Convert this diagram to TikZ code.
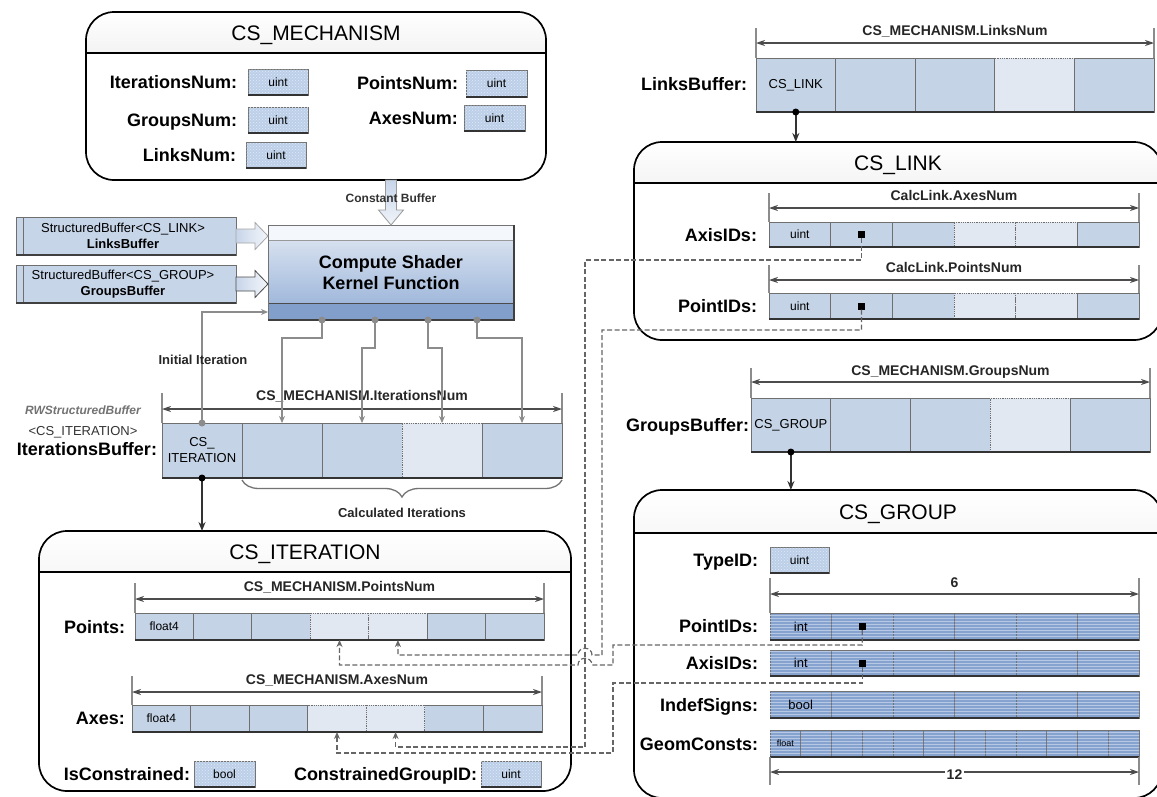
\documentclass[tikz,border=0pt]{standalone}
\usepackage{fontspec}
\setmainfont{Liberation Sans}
\usetikzlibrary{arrows.meta,patterns,decorations.pathreplacing,calc}
\definecolor{cellblue}{HTML}{C5D3E6}
\definecolor{celllight}{HTML}{E1E8F2}
\definecolor{cellborder}{HTML}{6F6F6F}
\definecolor{grpblue}{HTML}{86A3D0}
\definecolor{grpline}{HTML}{B7C8E5}
\definecolor{typeblue}{HTML}{BCCFE8}
\definecolor{csTop}{HTML}{E3EAF4}
\definecolor{csBot}{HTML}{93AED6}
\definecolor{csBand}{HTML}{829FCC}
\definecolor{wireg}{HTML}{8C8C8C}
\definecolor{hdrgray}{HTML}{CDCDCD}
\definecolor{bufblue}{HTML}{C7D5E9}
\newcommand\fsz[1]{\fontsize{#1}{#1}\selectfont}
\tikzset{
  every node/.style={inner sep=0pt, outer sep=0pt},
  cell/.style={draw=cellborder, fill=cellblue, line width=0.8pt, anchor=north west},
  lcell/.style={draw=cellborder, fill=celllight, densely dotted, line width=0.8pt, anchor=north west},
  gcell/.style={draw=black!55, fill=grpblue, line width=0.8pt, anchor=north west,
     postaction={pattern=horizontal lines, pattern color=grpline}},
  typebox/.style={draw=cellborder, fill=typeblue, line width=0.8pt, anchor=north west,
     postaction={pattern=crosshatch dots, pattern color=white!55!typeblue}, font=\fsz{12}},
  rowbot/.style={draw=black!80, line width=1.8pt},
  lbl/.style={font=\bfseries\fsz{18}, anchor=east, text height=13, text depth=0},
  celltxt/.style={font=\fontsize{13}{16}\selectfont, align=center},
  dimlbl/.style={font=\bfseries\fsz{14}, text=black!85, text height=10, text depth=0},
  dimline/.style={draw=black!70, line width=1.3pt, {Stealth[length=9pt,width=6pt]}-{Stealth[length=9pt,width=6pt]}},
  tick/.style={draw=black!45, line width=2pt},
  wire/.style={draw=wireg, line width=1.8pt},
  wiretip/.style={-{Stealth[length=7pt,width=6pt]}},
  dconn/.style={draw=black!60, line width=1.2pt, dash pattern=on 5pt off 2.5pt, -{Stealth[length=7pt,width=6pt]}},
  conn/.style={draw=black!80, line width=1.6pt, -{Stealth[length=9pt,width=7pt]}},
  sbox/.style={fill=white, anchor=north west, rounded corners=28pt},
  sframe/.style={draw=black, line width=1.7pt, rounded corners=28pt},
  stitle/.style={font=\fsz{21}, anchor=base},
  marker/.style={fill=black, minimum size=7pt},
  gdot/.style={circle, fill=wireg, minimum size=7pt},
  bdot/.style={circle, fill=black, minimum size=7pt},
  barrow/.style={left color=bufblue, right color=white!80!bufblue, draw=black!35, line width=0.8pt},
  barrowv/.style={top color=bufblue, bottom color=white!75!bufblue, draw=black!40, line width=0.8pt},
  bufbox/.style={draw=cellborder, fill=bufblue, line width=0.8pt, anchor=north west, minimum width=220, minimum height=38},
}
% #1 name, #2 x1, #3 y1, #4 x2, #5 y2, #6 header y, #7 title
\newcommand\structframe[7]{%
  \node[sbox, minimum width=#4-#2, minimum height=#5-#3] (#1) at (#2,#3) {};
  \begin{scope}
    \clip (#2,#3) rectangle (#4,#6);
    \fill[top color=white, bottom color=hdrgray, rounded corners=28pt] (#2,#3) rectangle (#4,#5);
  \end{scope}
  \draw[sframe] (#1.north west) rectangle (#1.south east);
  \draw[line width=1.8pt] (#2,#6) -- (#4,#6);
  \node[stitle] (#1T) at ({(#2+#4)/2},{(#3+#6)/2+7.5}) {#7};
}
% #1 prefix, #2 x0, #3 y0, #4 w, #5 h, #6 list, #7 n
\newcommand\cellrow[7]{%
  \foreach \i/\sty in {#6} \node[\sty, minimum width=#4, minimum height=#5] (#1\i) at ({#2+(\i-1)*#4},#3) {};
  \draw[rowbot] (#11.south west) -- (#1#7.south east);
}
% #1 name, #2 left cell, #3 right cell, #4 tick, #5 line offset, #6 label offset, #7 label
\newcommand\dimabove[7]{%
  \draw[tick] (#2.north west) -- ++(0,-#4);
  \draw[tick] (#3.north east) -- ++(0,-#4);
  \draw[dimline] ($(#2.north west)+(0,-#5)$) -- ($(#3.north east)+(0,-#5)$);
  \node[dimlbl] (#1) at ($(#2.north west)!0.5!(#3.north east)+(0,-#6)$) {#7};
}
\begin{document}
\begin{tikzpicture}[x=1pt,y=-1pt]
\fill[white] (0,0) rectangle (1157,796);
\useasboundingbox (0,0) rectangle (1157,796);

% ---------------- struct frames
\structframe{mech}{86}{12}{546}{180}{53}{CS\_MECHANISM}
\structframe{csit}{39}{531}{571}{791}{572}{CS\_ITERATION}
\structframe{csl}{634}{142}{1162}{340}{183}{CS\_LINK}
\structframe{csg}{634}{490}{1162}{798}{533}{CS\_GROUP}

% ---------------- CS_MECHANISM fields
\node[lbl] (lItN) at (237,82) {IterationsNum:};
\node[typebox, minimum width=60, minimum height=26] (tItN) at (248,69) {uint};
\node[lbl] (lGrN) at (237,120) {GroupsNum:};
\node[typebox, minimum width=60, minimum height=26] (tGrN) at (248,107) {uint};
\node[lbl] (lLkN) at (236,155) {LinksNum:};
\node[typebox, minimum width=60, minimum height=26] (tLkN) at (246,142) {uint};
\node[lbl] (lPtN) at (458,83) {PointsNum:};
\node[typebox, minimum width=61, minimum height=27] (tPtN) at (466,70) {uint};
\node[lbl] (lAxN) at (458,118) {AxesNum:};
\node[typebox, minimum width=61, minimum height=26] (tAxN) at (464,105) {uint};

% ---------------- compute shader
\node[minimum width=246, minimum height=95, anchor=north west, top color=csTop, bottom color=csBot] (cs) at (268,225) {};
\fill[white!60!csTop] (cs.north west) rectangle ($(cs.north east)+(0,15)$);
\fill[csBand] ($(cs.south west)+(0,-17)$) rectangle (cs.south east);
\draw[black!40, line width=0.8pt] ($(cs.north west)+(0,15)$) -- ($(cs.north east)+(0,15)$);
\draw[black!70, line width=1pt] ($(cs.south west)+(0,-17)$) -- ($(cs.south east)+(0,-17)$);
\draw[black!55, line width=0.8pt] (cs.north west) rectangle (cs.south east);
\draw[black!75, line width=1.4pt] (cs.north east) -- (cs.south east) -- (cs.south west);
\node[font=\bfseries\fontsize{18}{21}\selectfont, align=center] (csT) at (cs.center) {Compute Shader\\Kernel Function};

% constant buffer arrow
\coordinate (cbTop) at (cs.north |- mech.south);
\draw[barrowv] ($(cbTop)+(-5.5,0)$) -- ++(0,30) -- ++(-7,0) -- (cs.north) -- ++(12.5,-15) -- ++(-7,0) -- ++(0,-30) -- cycle;
\node[font=\bfseries\fsz{12}, text=black!80] (cbL) at (391,198) {Constant Buffer};

% ---------------- left structured buffers
\node[bufbox] (lb) at (16,217) {};
\node[bufbox] (gb) at (16,265) {};
\foreach \b in {lb,gb} {
  \draw[cellborder, line width=0.8pt] ($(\b.north west)+(7,0)$) -- ($(\b.south west)+(7,0)$);
  \draw[black!75, line width=1.5pt] (\b.south west) -- (\b.south east);
}
\node[font=\fontsize{13}{16}\selectfont, align=center] (lbT) at ($(lb.center)+(-3,0)$) {StructuredBuffer<CS\_LINK>\\\textbf{LinksBuffer}};
\node[font=\fontsize{13}{16}\selectfont, align=center] (gbT) at ($(gb.center)+(-3,0)$) {StructuredBuffer<CS\_GROUP>\\\textbf{GroupsBuffer}};
\draw[barrow] ($(lb.east)+(0,-7)$) -- ++(19,0) -- ++(0,-6.5) -- (lb.east -| cs.west) -- ++(-13,13.5) -- ++(0,-6.5) -- ++(-19,0) -- cycle;
\draw[barrow, draw=black!70] ($(gb.east)+(0,-7)$) -- ++(19,0) -- ++(0,-6.5) -- (gb.east -| cs.west) -- ++(-13,13.5) -- ++(0,-6.5) -- ++(-19,0) -- cycle;

% ---------------- iterations buffer
\cellrow{itb}{162}{423}{80}{55}{1/cell,2/cell,3/cell,5/cell,4/lcell}{5}
\node[celltxt] (itbT) at (itb1) {CS\_\\ITERATION};
\dimabove{itbD}{itb1}{itb5}{30}{14}{28}{CS\_MECHANISM.IterationsNum}
\node[font=\bfseries\itshape\fsz{12}, text=black!55] (rwL) at (83,410) {RWStructuredBuffer};
\node[font=\fsz{13}, text=black!80] (rwL2) at (83,432) {<CS\_ITERATION>};
\node[lbl] (itbL) at (157,449) {IterationsBuffer:};
\draw[decorate, decoration={brace, mirror, amplitude=17pt, raise=2pt}, draw=black!55, line width=1.3pt] (itb2.south west) -- (itb5.south east);
\node[font=\bfseries\fsz{13}, text=black!85] (calcL) at (402,513) {Calculated Iterations};

% initial iteration
\coordinate (initIn) at ($(cs.south west)+(0,-8)$);
\draw[wire, wiretip] (itb1.north) |- (initIn);
\node[gdot] (itDot) at (itb1.north) {};
\node[font=\bfseries\fsz{13}, text=black!85] (initL) at (203,360) {Initial Iteration};

% kernel outputs
\foreach \k/\xx/\dd/\tg in {1/322/18/itb2, 2/375/28/itb3, 3/428/28/itb4, 4/477/18/itb5} {
  \coordinate (o\k) at (\xx,320);
  \draw[wire, wiretip] (o\k) -- ++(0,\dd) -| (\tg.north);
  \node[gdot] (od\k) at (o\k) {};
}

% to CS_ITERATION
\draw[conn] (itb1.south) -- (itb1.south |- csit.north);
\node[bdot] (itbDot2) at (itb1.south) {};

% ---------------- CS_ITERATION contents
\cellrow{pt}{135}{613}{58.43}{27}{1/cell,2/cell,3/cell,6/cell,7/cell,4/lcell,5/lcell}{7}
\node[font=\fsz{12}] (ptT) at (pt1) {float4};
\dimabove{ptD}{pt1}{pt7}{30}{14}{27}{CS\_MECHANISM.PointsNum}
\node[lbl] (ptL) at (125,627) {Points:};
\cellrow{ax}{132}{705}{58.57}{27}{1/cell,2/cell,3/cell,6/cell,7/cell,4/lcell,5/lcell}{7}
\node[font=\fsz{12}] (axT) at (ax1) {float4};
\dimabove{axD}{ax1}{ax7}{29}{13}{26}{CS\_MECHANISM.AxesNum}
\node[lbl] (axL) at (125,718) {Axes:};
\node[lbl] (lIsC) at (190,774) {IsConstrained:};
\node[typebox, minimum width=61, minimum height=26] (tIsC) at (194,761) {bool};
\node[lbl] (lCG) at (477,774) {ConstrainedGroupID:};
\node[typebox, minimum width=60, minimum height=26] (tCG) at (481,761) {uint};

% ---------------- links buffer
\cellrow{lnb}{756}{58}{79.6}{54}{1/cell,2/cell,3/cell,5/cell,4/lcell}{5}
\node[celltxt] (lnbT) at (lnb1) {CS\_LINK};
\node[lbl] (lnbL) at (747,84) {LinksBuffer:};
\dimabove{lnbD}{lnb1}{lnb5}{30}{15}{28}{CS\_MECHANISM.LinksNum}
\draw[conn] (lnb1.south) -- (lnb1.south |- csl.north);
\node[bdot] (lnbDot) at (lnb1.south) {};

% ---------------- CS_LINK contents
\cellrow{lax}{769}{222}{61.67}{25}{1/cell,2/cell,3/cell,6/cell,4/lcell,5/lcell}{6}
\node[font=\fsz{12}] (laxT) at (lax1) {uint};
\dimabove{laxD}{lax1}{lax6}{29}{14}{27}{CalcLink.AxesNum}
\node[lbl] (laxL) at (757,235) {AxisIDs:};
\cellrow{lpt}{769}{293}{61.67}{26}{1/cell,2/cell,3/cell,6/cell,4/lcell,5/lcell}{6}
\node[font=\fsz{12}] (lptT) at (lpt1) {uint};
\dimabove{lptD}{lpt1}{lpt6}{28}{13}{26}{CalcLink.PointsNum}
\node[lbl] (lptL) at (757,306) {PointIDs:};
\node[marker] (laxM) at (lax2) {};
\node[marker] (lptM) at (lpt2) {};

% ---------------- groups buffer
\cellrow{grb}{751}{398}{79.8}{54}{1/cell,2/cell,3/cell,5/cell,4/lcell}{5}
\node[celltxt] (grbT) at (grb1) {CS\_GROUP};
\node[lbl] (grbL) at (749,425) {GroupsBuffer:};
\dimabove{grbD}{grb1}{grb5}{30}{16}{28}{CS\_MECHANISM.GroupsNum}
\draw[conn] (grb1.south) -- (grb1.south |- csg.north);
\node[bdot] (grbDot) at (grb1.south) {};

% ---------------- CS_GROUP contents
\node[lbl] (lTyp) at (758,560) {TypeID:};
\node[typebox, minimum width=59, minimum height=26] (tTyp) at (770,547) {uint};
\cellrow{gpt}{770}{613}{61.5}{27}{1/gcell,2/gcell,3/gcell,4/gcell,5/gcell,6/gcell}{6}
\dimabove{gD6}{gpt1}{gpt6}{35}{19}{31}{6}
\node[font=\fsz{13}] (gptT) at (gpt1) {int};
\node[lbl] (gptL) at (758,626) {PointIDs:};
\cellrow{gax}{770}{650}{61.5}{26}{1/gcell,2/gcell,3/gcell,4/gcell,5/gcell,6/gcell}{6}
\node[font=\fsz{13}] (gaxT) at (gax1) {int};
\node[lbl] (gaxL) at (758,663) {AxisIDs:};
\cellrow{gin}{770}{691}{61.5}{27}{1/gcell,2/gcell,3/gcell,4/gcell,5/gcell,6/gcell}{6}
\node[font=\fsz{13}] (ginT) at (gin1) {bool};
\node[lbl] (ginL) at (758,705) {IndefSigns:};
\cellrow{gc}{770}{730}{30.75}{27}{1/gcell,2/gcell,3/gcell,4/gcell,5/gcell,6/gcell,7/gcell,8/gcell,9/gcell,10/gcell,11/gcell,12/gcell}{12}
\node[font=\fsz{9}] (gcT) at (gc1) {float};
\node[lbl] (gcL) at (758,744) {GeomConsts:};
\draw[tick] (gc1.south west) -- ++(0,28);
\draw[tick] (gc12.south east) -- ++(0,28);
\draw[dimline] ($(gc1.south west)+(0,15)$) -- ($(gc12.south east)+(0,15)$);
\node[dimlbl, fill=white, inner sep=2pt] (gD12) at ($(gc1.south west)!0.5!(gc12.south east)+(0,17)$) {12};
\node[marker] (gptM) at (gpt2) {};
\node[marker] (gaxM) at (gax2) {};

% bottoms of type boxes
\foreach \n in {tItN,tGrN,tLkN,tPtN,tAxN,tIsC,tCG,tTyp}
  \draw[black!80, line width=1.6pt] (\n.south west) -- (\n.south east);

% ---------------- dashed index connectors
\draw[dconn] (laxM) |- (585,260) |- (ax5.south |- 0,747) -- (ax5.south);
\draw[dconn] (lptM) |- (602,330) |- (592,655) .. controls (592,646) and (578,646) .. (578,655) -| (pt5.south);
\draw[dconn] (gptM) |- (613,645) |- (592,665) .. controls (592,656) and (578,656) .. (578,665) -| (pt4.south);
\draw[dconn] (gaxM) |- (613,683) |- (ax4.south |- 0,753) -- (ax4.south);
\end{tikzpicture}
\end{document}
